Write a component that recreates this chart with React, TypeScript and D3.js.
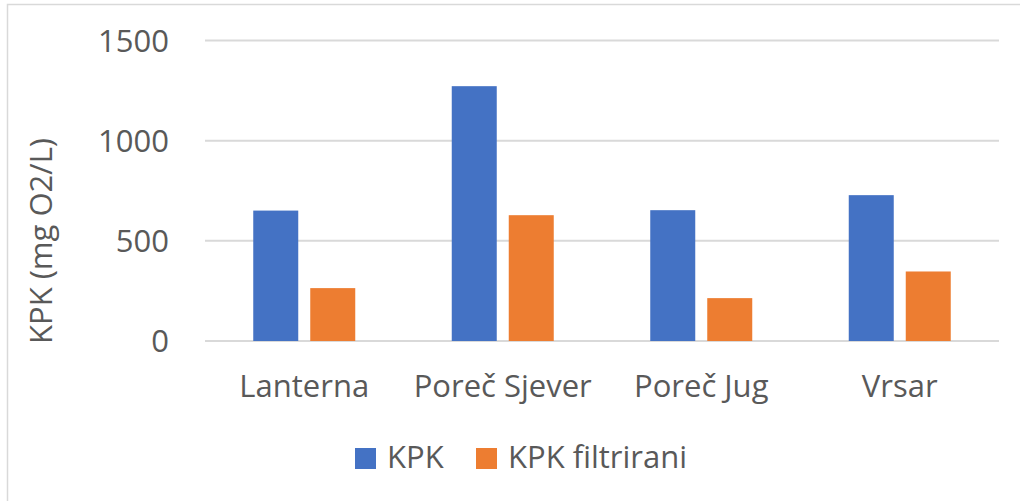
import React, { useRef, useEffect } from 'react';
import * as d3 from 'd3';

const categories = ['Lanterna', 'Poreč Sjever', 'Poreč Jug', 'Vrsar'];
const seriesNames = ['KPK', 'KPK filtrirani'];
const kpk = [651, 1272, 653, 728];
const kpkFiltrirani = [264, 628, 214, 347];
const yTicks = [0, 500, 1000, 1500];
const colors = ['#4472c4', '#ed7d31'];

const W = 1020;
const H = 501;
const FONT = '"Open Sans", sans-serif';
const TEXT = '#595959';

const App = () => {
    const svgRef = useRef<SVGSVGElement>(null);

    useEffect(() => {
        const svg = d3.select(svgRef.current);
        svg.selectAll('*').remove();

        // chart frame
        svg.append('rect')
            .attr('x', 7.5).attr('y', 4.5)
            .attr('width', W + 20).attr('height', H + 20)
            .attr('fill', '#fff')
            .attr('stroke', '#d9d9d9')
            .attr('stroke-width', 1.5);

        const x = d3.scaleBand().domain(categories).range([205, 999]);
        const y = d3.scaleLinear().domain([0, 1500]).range([341, 40.5]);
        const x1 = d3.scaleBand().domain(seriesNames).range([0, 102]).paddingInner(12 / 57);

        // gridlines
        svg.append('g')
            .selectAll('line')
            .data(yTicks)
            .join('line')
            .attr('x1', 205).attr('x2', 999)
            .attr('y1', d => y(d)).attr('y2', d => y(d))
            .attr('stroke', '#d9d9d9')
            .attr('stroke-width', 2);

        // tick labels
        svg.append('g')
            .selectAll('text')
            .data(yTicks)
            .join('text')
            .attr('x', 169)
            .attr('y', d => y(d))
            .attr('dy', '0.36em')
            .attr('text-anchor', 'end')
            .attr('font-family', FONT)
            .attr('font-size', 31)
            .attr('fill', TEXT)
            .text(d => d);

        // bars
        const rows = categories.map((c, i) => ({ cat: c, values: [kpk[i], kpkFiltrirani[i]] }));
        const groups = svg.append('g')
            .selectAll('g')
            .data(rows)
            .join('g')
            .attr('transform', d => `translate(${x(d.cat)! + x.bandwidth() / 2 - 51},0)`);

        groups.selectAll('rect')
            .data(d => d.values.map((v, j) => ({ name: seriesNames[j], v, j })))
            .join('rect')
            .attr('x', d => x1(d.name)!)
            .attr('width', x1.bandwidth())
            .attr('y', d => y(d.v))
            .attr('height', d => y(0) - y(d.v))
            .attr('fill', d => colors[d.j]);

        // category labels
        svg.append('g')
            .selectAll('text')
            .data(categories)
            .join('text')
            .attr('x', d => x(d)! + x.bandwidth() / 2)
            .attr('y', 397)
            .attr('text-anchor', 'middle')
            .attr('font-family', FONT)
            .attr('font-size', 31)
            .attr('fill', TEXT)
            .text(d => d);

        // y axis title
        svg.append('text')
            .attr('transform', 'translate(52,241) rotate(-90)')
            .attr('text-anchor', 'middle')
            .attr('font-family', FONT)
            .attr('font-size', 31)
            .attr('fill', TEXT)
            .text('KPK (mg O2/L)');

        // legend
        const legendX = [355, 476];
        const legend = svg.append('g')
            .selectAll('g')
            .data(seriesNames)
            .join('g')
            .attr('transform', (d, i) => `translate(${legendX[i]},448)`);
        legend.append('rect')
            .attr('width', 21).attr('height', 21)
            .attr('fill', (d, i) => colors[i]);
        legend.append('text')
            .attr('x', 32)
            .attr('y', 20)
            .attr('font-family', FONT)
            .attr('font-size', 31)
            .attr('fill', TEXT)
            .text(d => d);
    }, []);

    return (
        <svg ref={svgRef} width={W} height={H}
            style={{ position: 'absolute', left: 0, top: 0, background: '#fff' }} />
    );
};

export default App;
